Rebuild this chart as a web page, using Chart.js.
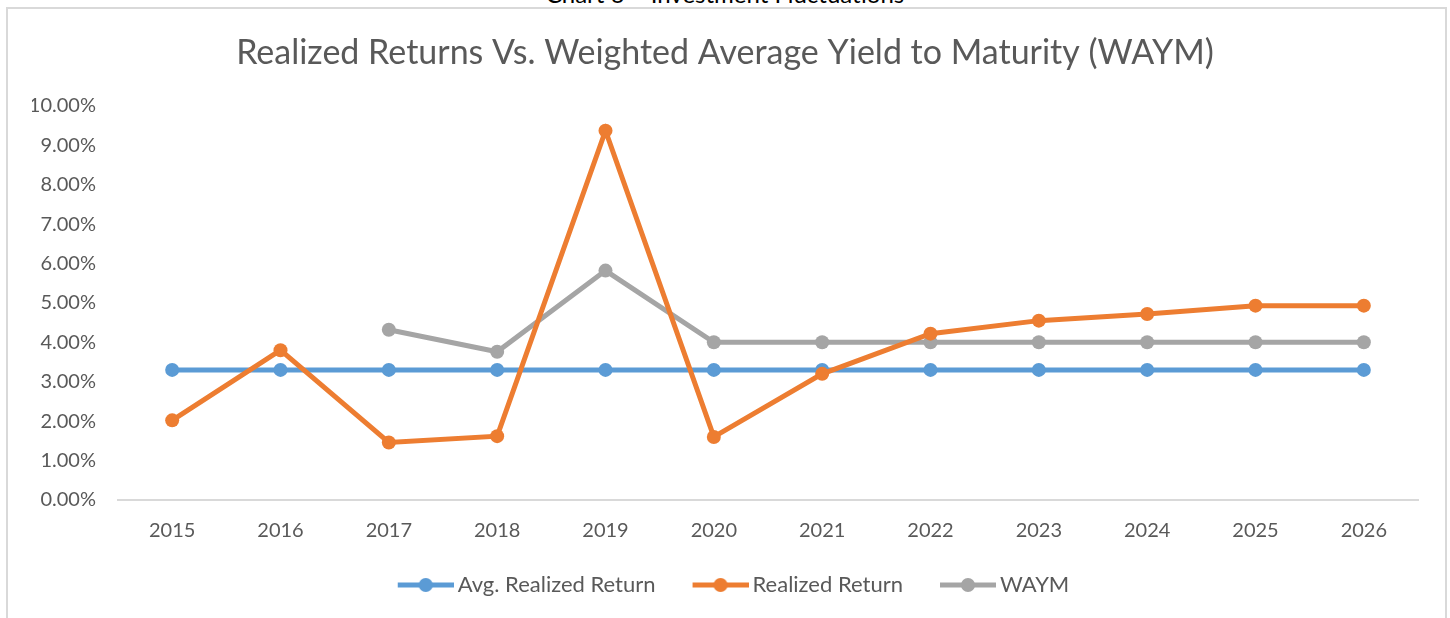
<!DOCTYPE html>
<html>
<head>
<meta charset="utf-8">
<script src="https://cdn.jsdelivr.net/npm/chart.js@4.4.1/dist/chart.umd.min.js"></script>
<style>
  body { margin: 0; background: #fff; overflow: hidden; width: 1450px; height: 618px; position: relative; }
  #caption { position: absolute; left: 0; top: -21px; width: 1450px; text-align: center; font: 24px Lato; color: #000; }
  #frame { position: absolute; left: 6px; top: 7px; width: 1437px; height: 700px; border: 2px solid #d9d9d9; }
  #wrap { position: absolute; left: 0; top: 0; width: 1450px; height: 618px; }
</style>
</head>
<body>
<div id="caption">Chart 6 – Investment Fluctuations</div>
<div id="frame"></div>
<div id="wrap"><canvas id="returns"></canvas></div>
<script>
const years = ['2015', '2016', '2017', '2018', '2019', '2020', '2021', '2022', '2023', '2024', '2025', '2026'];
const avgRealizedReturn = [0.0330, 0.0330, 0.0330, 0.0330, 0.0330, 0.0330, 0.0330, 0.0330, 0.0330, 0.0330, 0.0330, 0.0330];
const realizedReturn = [0.0202, 0.0380, 0.0146, 0.0162, 0.0937, 0.0160, 0.0320, 0.0422, 0.0455, 0.0472, 0.0493, 0.0493];
const waym = [null, null, 0.0432, 0.0376, 0.0582, 0.0400, 0.0400, 0.0400, 0.0400, 0.0400, 0.0400, 0.0400];

const blue = '#5b9bd5';
const orange = '#ed7d31';
const gray = '#a5a5a5';
const textColor = '#595959';

Chart.defaults.font.family = 'Lato';
Chart.defaults.color = textColor;

// line with a dot in the middle, like the Excel legend keys.
// the image is wider than the key and only its right part is drawn,
// so the key sits close to its text and far from the previous item
const keyBox = 66;
function makeMarker(color) {
    const c = document.createElement('canvas');
    c.width = keyBox + 14;
    c.height = 16;
    const g = c.getContext('2d');
    const x0 = c.width - 56;
    g.strokeStyle = color;
    g.lineWidth = 5;
    g.beginPath();
    g.moveTo(x0, 8);
    g.lineTo(c.width, 8);
    g.stroke();
    g.fillStyle = color;
    g.beginPath();
    g.arc(x0 + 28, 8, 7, 0, Math.PI * 2);
    g.fill();
    return c;
}
const markers = [makeMarker(blue), makeMarker(orange), makeMarker(gray)];

function series(label, data, color, order) {
    return {
        label: label,
        data: data,
        borderColor: color,
        backgroundColor: color,
        borderWidth: 5,
        pointRadius: 7,
        pointBorderWidth: 0,
        pointBackgroundColor: color,
        tension: 0,
        order: order
    };
}

const config = {
    type: 'line',
    data: {
        labels: years,
        datasets: [
            series('Avg. Realized Return', avgRealizedReturn, blue, 2),
            series('Realized Return', realizedReturn, orange, 0),
            series('WAYM', waym, gray, 1)
        ]
    },
    options: {
        responsive: true,
        maintainAspectRatio: false,
        animation: false,
        layout: { padding: { left: 32, right: 32, top: 0, bottom: 12 } },
        plugins: {
            title: {
                display: true,
                text: 'Realized Returns Vs. Weighted Average Yield to Maturity (WAYM)',
                color: textColor,
                font: { size: 34, weight: 'normal' },
                padding: { top: 33, bottom: 32 }
            },
            legend: {
                position: 'bottom',
                labels: {
                    usePointStyle: true,
                    pointStyleWidth: keyBox,
                    padding: 20,
                    color: textColor,
                    font: { size: 22 },
                    sort: (a, b) => a.datasetIndex - b.datasetIndex,
                    generateLabels(chart) {
                        const items = Chart.defaults.plugins.legend.labels.generateLabels(chart);
                        items.forEach(it => { it.pointStyle = markers[it.datasetIndex]; });
                        return items;
                    }
                }
            },
            tooltip: { enabled: false }
        },
        scales: {
            x: {
                offset: true,
                grid: { display: false, drawTicks: false },
                border: { color: '#d9d9d9', width: 2 },
                ticks: { color: textColor, font: { size: 20 }, padding: 19, maxRotation: 0 },
                afterFit(scale) { scale.height = 54; }
            },
            y: {
                min: 0,
                max: 0.1,
                grid: { display: false, drawTicks: false },
                border: { display: false },
                ticks: {
                    stepSize: 0.01,
                    padding: 22,
                    color: textColor,
                    font: { size: 20 },
                    callback: v => (v * 100).toFixed(2) + '%'
                },
                afterFit(scale) { scale.width = 86; }
            }
        }
    }
};

const chartCanvas = document.getElementById('returns');
const chart = new Chart(chartCanvas.getContext('2d'), config);
</script>
</body>
</html>
